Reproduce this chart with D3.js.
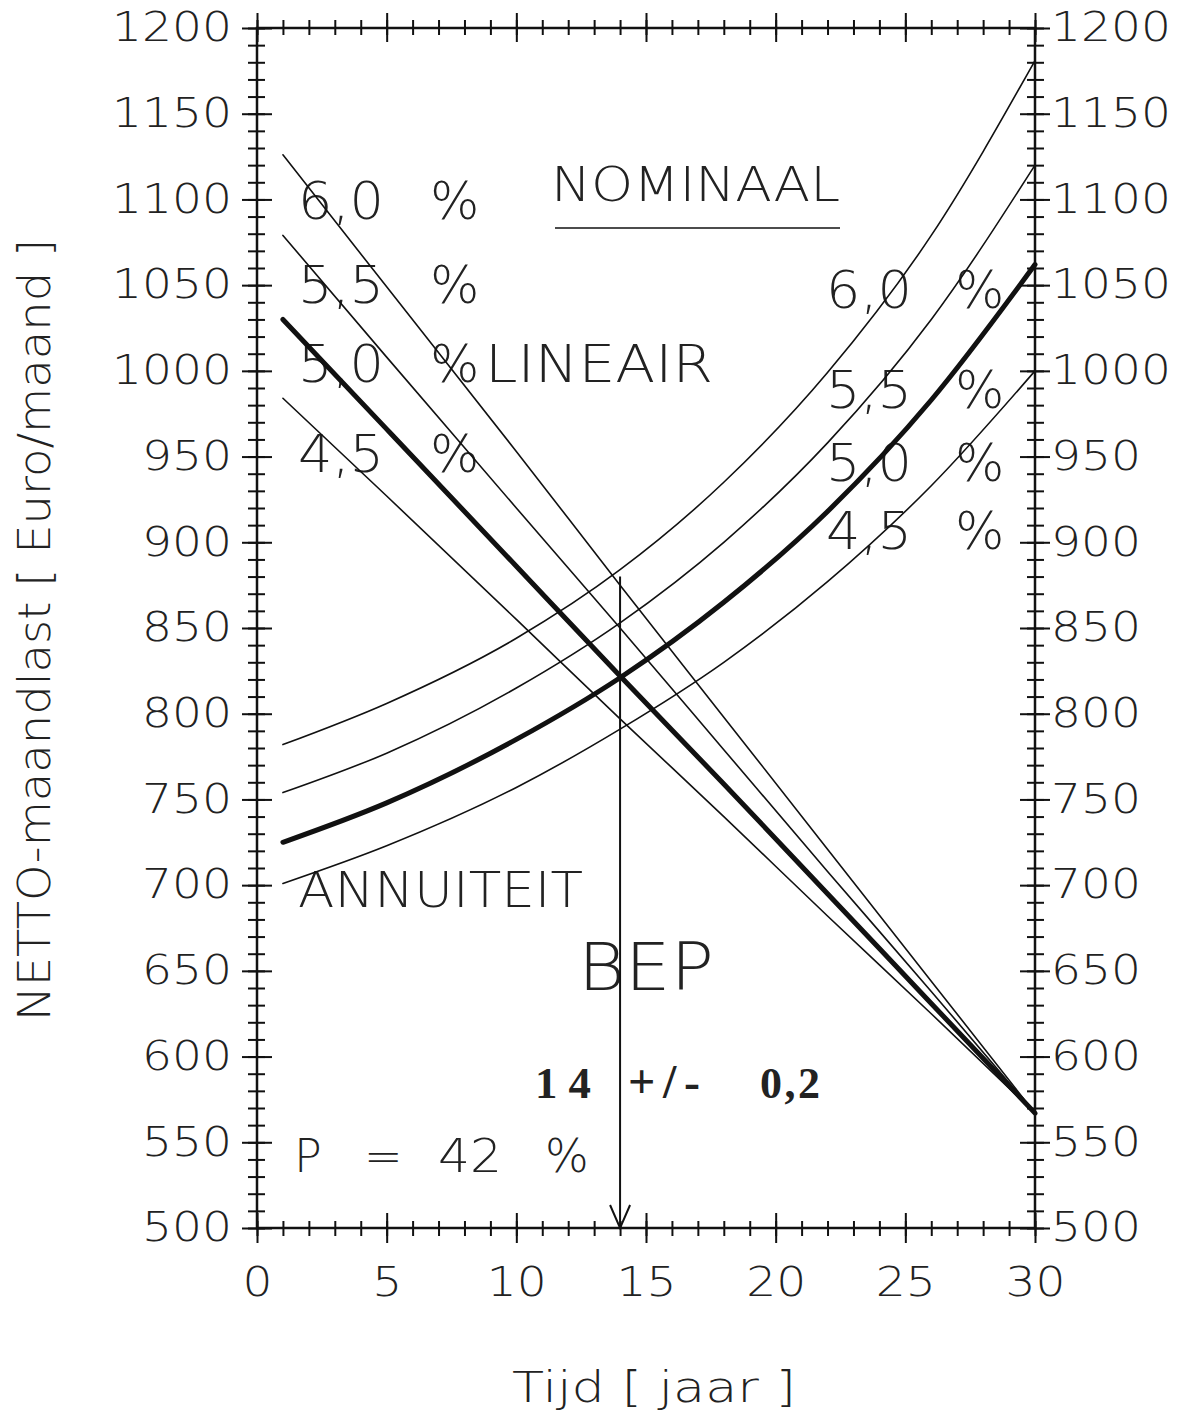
<!DOCTYPE html>
<html>
<head>
<meta charset="utf-8">
<script src="https://cdn.jsdelivr.net/npm/d3@7"></script>
<style>
  body { margin: 0; background: #fff; }
  text { fill: #222; }
</style>
</head>
<body>
<div id="chart"></div>
<script>
const years = [1, 5, 10, 14, 18, 22, 26, 30];

// annuiteit (stijgend), netto maandlast
const annuiteit45 = [701, 723, 757, 791, 830, 877, 933, 1000];
const annuiteit50 = [725, 748, 785, 821, 865, 918, 983, 1062];
const annuiteit55 = [754, 777, 815, 853, 900, 958, 1030, 1120];
const annuiteit60 = [782, 806, 844, 884, 935, 999, 1079, 1181];

// lineair (dalend)
const lineair45 = [984, 927, 855, 797, 740, 682, 625, 567];
const lineair50 = [1030, 966, 886, 822, 759, 695, 631, 567];
const lineair55 = [1079, 1008, 920, 850, 779, 708, 638, 567];
const lineair60 = [1126, 1049, 953, 875, 798, 721, 644, 567];

const xTickLabels = [0, 5, 10, 15, 20, 25, 30];
const yTickLabels = [500, 550, 600, 650, 700, 750, 800, 850, 900, 950, 1000, 1050, 1100, 1150, 1200];

const bep = 14;        // break-even punt (jaar)
const bepTop = 880;    // bovenkant pijl

const sans = "'DejaVu Sans', sans-serif";
const thin = 200;

const W = 1189, H = 1414;
const svg = d3.select('#chart').append('svg')
  .attr('width', W).attr('height', H);

const x = d3.scaleLinear().domain([0, 30]).range([257, 1035]);
const y = d3.scaleLinear().domain([500, 1200]).range([1228, 28]);

const series = [
  {v: annuiteit45, w: 1.6}, {v: annuiteit50, w: 5}, {v: annuiteit55, w: 1.6}, {v: annuiteit60, w: 1.6},
  {v: lineair45, w: 1.6}, {v: lineair50, w: 5}, {v: lineair55, w: 1.6}, {v: lineair60, w: 1.6}
];

const minorX = d3.range(0, 31, 1);
const minorY = d3.range(500, 1201, 10);

// tekst van de asgetallen: breed, dun
function tickText(g) {
  g.selectAll('.tick text')
    .style('font-family', sans).style('font-weight', thin).style('font-size', '40px')
    .attr('fill', '#222')
    .attr('textLength', d => String(d).length * 30)
    .attr('lengthAdjust', 'spacingAndGlyphs');
}
function ticks(g, a1, a2, b1, b2) {
  g.select('.domain').remove();
  g.selectAll('.tick line').attr(a1, b1).attr(a2, b2).attr('stroke', '#111').attr('stroke-width', 2);
}

// teksten
function label(txt, px, py, size, opts = {}) {
  const t = svg.append('text')
    .attr('x', px).attr('y', py)
    .attr('text-anchor', opts.anchor || 'start')
    .style('font-family', opts.family || sans)
    .style('font-weight', opts.weight || thin)
    .style('font-size', size + 'px')
    .text(txt);
  if (opts.len) t.attr('textLength', opts.len).attr('lengthAdjust', opts.adjust || 'spacingAndGlyphs');
  if (opts.transform) t.attr('transform', opts.transform);
  return t;
}

// links: lineair percentages
const leftPct = [['6,0', 219], ['5,5', 303], ['5,0', 382], ['4,5', 472]];
leftPct.forEach(([p, by]) => {
  label(p, 298, by, 52, {len: 86});
  label('%', 430, by, 52);
});
label('LINEAIR', 485, 382, 52, {len: 228});

// rechts: annuiteit percentages
const rightPct = [['6,0', 308], ['5,5', 408], ['5,0', 481], ['4,5', 549]];
rightPct.forEach(([p, by]) => {
  label(p, 826, by, 52, {len: 86});
  label('%', 955, by, 52);
});

label('NOMINAAL', 551, 201, 48, {len: 289});
svg.append('line').attr('x1', 555).attr('x2', 840).attr('y1', 228).attr('y2', 228)
  .attr('stroke', '#111').attr('stroke-width', 1.5);

label('ANNUITEIT', 298, 907, 50, {len: 285});
label('BEP', 578, 990, 66, {len: 136});

const serif = "'Liberation Serif', 'Times New Roman', serif";
label('1 4', 535, 1098, 44, {family: serif, weight: 700, len: 56});
label('+/-', 628, 1098, 48, {family: serif, weight: 700, len: 72, adjust: 'spacing'});
label('0 , 2', 760, 1098, 44, {family: serif, weight: 700, len: 60, adjust: 'spacing'});

label('P', 294, 1172, 46);
label('=', 364, 1172, 46);
label('42', 438, 1172, 46, {len: 64});
label('%', 545, 1172, 46);

// curves
const line = d3.line()
  .x((d, i) => x(years[i]))
  .y(d => y(d))
  .curve(d3.curveMonotoneX);

svg.append('g').selectAll('path')
  .data(series)
  .enter().append('path')
  .attr('d', d => line(d.v))
  .attr('fill', 'none')
  .attr('stroke', '#111')
  .attr('stroke-width', d => d.w)
  .attr('stroke-linecap', 'round');

// onder
svg.append('g').attr('transform', `translate(0,${y(500)})`)
  .call(d3.axisBottom(x).tickValues(minorX).tickFormat('').tickSize(0))
  .call(g => ticks(g, 'y1', 'y2', -7, 8));
svg.append('g').attr('transform', `translate(0,${y(500)})`)
  .call(d3.axisBottom(x).tickValues(xTickLabels).tickFormat(d3.format('d')).tickSize(0).tickPadding(40))
  .call(g => { ticks(g, 'y1', 'y2', -15, 15); tickText(g); });

// boven
svg.append('g').attr('transform', `translate(0,${y(1200)})`)
  .call(d3.axisTop(x).tickValues(minorX).tickFormat('').tickSize(0))
  .call(g => ticks(g, 'y1', 'y2', -8, 7));
svg.append('g').attr('transform', `translate(0,${y(1200)})`)
  .call(d3.axisTop(x).tickValues(xTickLabels).tickFormat('').tickSize(0))
  .call(g => ticks(g, 'y1', 'y2', -15, 14));

// links
svg.append('g').attr('transform', `translate(${x(0)},0)`)
  .call(d3.axisLeft(y).tickValues(minorY).tickFormat('').tickSize(0))
  .call(g => ticks(g, 'x1', 'x2', -9, 8));
svg.append('g').attr('transform', `translate(${x(0)},0)`)
  .call(d3.axisLeft(y).tickValues(yTickLabels).tickFormat(d3.format('d')).tickSize(0).tickPadding(25))
  .call(g => { ticks(g, 'x1', 'x2', -15, 15); tickText(g); });

// rechts
svg.append('g').attr('transform', `translate(${x(30)},0)`)
  .call(d3.axisRight(y).tickValues(minorY).tickFormat('').tickSize(0))
  .call(g => ticks(g, 'x1', 'x2', -8, 9));
svg.append('g').attr('transform', `translate(${x(30)},0)`)
  .call(d3.axisRight(y).tickValues(yTickLabels).tickFormat(d3.format('d')).tickSize(0).tickPadding(16))
  .call(g => { ticks(g, 'x1', 'x2', -15, 15); tickText(g); });

// kader
svg.append('rect')
  .attr('x', x(0)).attr('y', y(1200))
  .attr('width', x(30) - x(0)).attr('height', y(500) - y(1200))
  .attr('fill', 'none').attr('stroke', '#111').attr('stroke-width', 2.5);

// BEP pijl
const bx = x(bep);
svg.append('line')
  .attr('x1', bx).attr('x2', bx).attr('y1', y(bepTop)).attr('y2', y(500))
  .attr('stroke', '#111').attr('stroke-width', 2);
svg.append('path')
  .attr('d', `M${bx - 10},${y(500) - 23}L${bx},${y(500)}L${bx + 10},${y(500) - 23}`)
  .attr('fill', 'none').attr('stroke', '#111').attr('stroke-width', 2);

// astitels
label('Tijd  [  jaar  ]', 512, 1402, 42, {len: 284});
label('NETTO-maandlast  [  Euro/maand  ]', 0, 0, 44,
  {len: 782, anchor: 'middle', transform: 'translate(50,630) rotate(-90)'});
</script>
</body>
</html>
